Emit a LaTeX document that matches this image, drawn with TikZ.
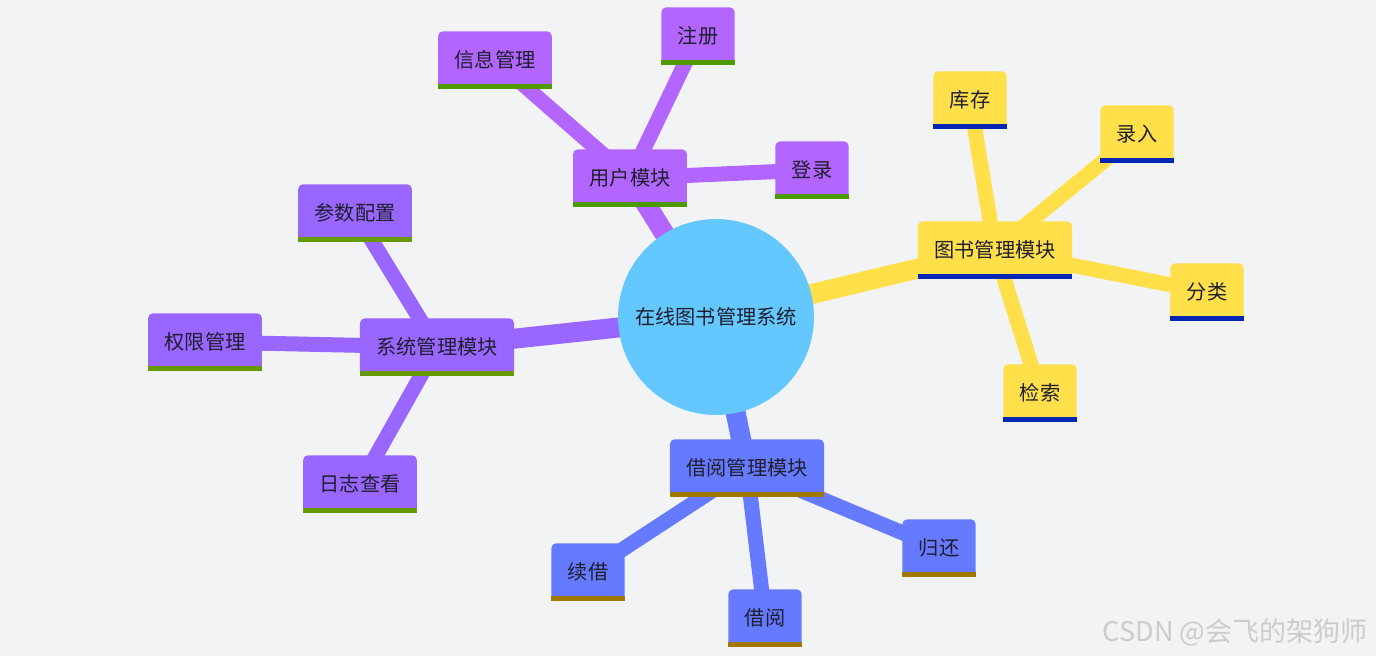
\documentclass[tikz,border=0pt]{standalone}
\usepackage{fontspec}
\setmainfont{Noto Sans CJK SC}
\usetikzlibrary{backgrounds}

\definecolor{bgGray}{HTML}{F2F3F5}
\definecolor{rootBlue}{HTML}{64C8FF}
\definecolor{userPurple}{HTML}{B266FF}
\definecolor{sysPurple}{HTML}{9966FF}
\definecolor{bookYellow}{HTML}{FFDF4A}
\definecolor{borrowBlue}{HTML}{667AFF}
\definecolor{barGreen}{HTML}{4C9A00}
\definecolor{barOlive}{HTML}{669900}
\definecolor{barNavy}{HTML}{0026B3}
\definecolor{barGold}{HTML}{A07800}
\definecolor{inkDark}{HTML}{1F1F2E}

\newcommand{\mmfont}{\fontsize{11.5}{13}\selectfont}

\begin{document}
\begin{tikzpicture}[
  x=0.02cm, y=-0.02cm,
  root/.style={circle, fill=rootBlue, minimum size=3.92cm, inner sep=0, font=\mmfont, text=inkDark},
  topic/.style={rectangle, rounded corners=0.1cm, minimum height=1.15cm, inner xsep=0.33cm, inner ysep=0, outer sep=0, font=\mmfont, text=inkDark},
  trunk/.style={line width=0.4cm},
  twig/.style={line width=0.3cm},
  wmark/.style={font=\fontsize{15.4}{17}\selectfont, text=gray!40},
]
\useasboundingbox (0,0) rectangle (1376,656);

% centre
\node[root] (root) at (716,317) {在线图书管理系统};

% user branch
\node[topic, fill=userPurple] (user) at (630,178) {用户模块};
\node[topic, fill=userPurple] (reg) at (698,36) {注册};
\node[topic, fill=userPurple] (info) at (495,60) {信息管理};
\node[topic, fill=userPurple] (login) at (812,170) {登录};

% book branch
\node[topic, fill=bookYellow] (book) at (995,250) {图书管理模块};
\node[topic, fill=bookYellow] (stock) at (970,100) {库存};
\node[topic, fill=bookYellow] (entry) at (1137,134) {录入};
\node[topic, fill=bookYellow] (sort) at (1207,292) {分类};
\node[topic, fill=bookYellow] (search) at (1040,393) {检索};

% system branch
\node[topic, fill=sysPurple] (sys) at (437,347) {系统管理模块};
\node[topic, fill=sysPurple] (param) at (355,213) {参数配置};
\node[topic, fill=sysPurple] (perm) at (205,342) {权限管理};
\node[topic, fill=sysPurple] (logs) at (360,484) {日志查看};

% borrow branch
\node[topic, fill=borrowBlue] (borrow) at (747,468) {借阅管理模块};
\node[topic, fill=borrowBlue] (renew) at (588,572) {续借};
\node[topic, fill=borrowBlue] (lend) at (765,618) {借阅};
\node[topic, fill=borrowBlue] (back) at (939,548) {归还};

% bottom bars
\foreach \n/\c in {user/barGreen, reg/barGreen, info/barGreen, login/barGreen,
                   book/barNavy, stock/barNavy, entry/barNavy, sort/barNavy, search/barNavy,
                   sys/barOlive, param/barOlive, perm/barOlive, logs/barOlive,
                   borrow/barGold, renew/barGold, lend/barGold, back/barGold}
  \fill[\c] (\n.south west) rectangle ([yshift=0.1cm]\n.south east);

\node[wmark, anchor=east] (wm) at (1374,632) {CSDN @会飞的架狗师};

\begin{pgfonlayer}{background}
\fill[bgGray] (0,0) rectangle (1376,656);
% branches
\draw[trunk, userPurple] (root.center) -- (user.center);
\draw[trunk, bookYellow] (root.center) -- (book.center);
\draw[trunk, sysPurple] (root.center) -- (sys.center);
\draw[trunk, borrowBlue] (root.center) -- (borrow.center);
\foreach \a/\b in {user/reg, user/info, user/login}
  \draw[twig, userPurple] (\a.center) -- (\b.center);
\foreach \a/\b in {book/stock, book/entry, book/sort, book/search}
  \draw[twig, bookYellow] (\a.center) -- (\b.center);
\foreach \a/\b in {sys/param, sys/perm, sys/logs}
  \draw[twig, sysPurple] (\a.center) -- (\b.center);
\foreach \a/\b in {borrow/renew, borrow/lend, borrow/back}
  \draw[twig, borrowBlue] (\a.center) -- (\b.center);
\end{pgfonlayer}
\end{tikzpicture}
\end{document}
